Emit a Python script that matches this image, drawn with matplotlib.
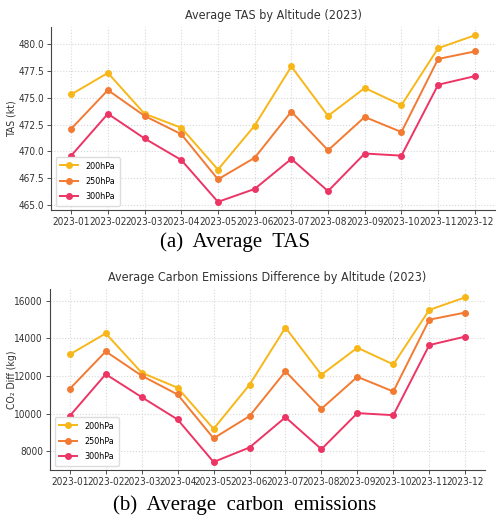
import matplotlib as mpl
import matplotlib.pyplot as plt

# data
months = ['2023-01', '2023-02', '2023-03', '2023-04', '2023-05', '2023-06',
          '2023-07', '2023-08', '2023-09', '2023-10', '2023-11', '2023-12']

tas_200 = [475.3, 477.3, 473.5, 472.2, 468.3, 472.4, 477.9, 473.3, 475.9, 474.3, 479.6, 480.8]
tas_250 = [472.1, 475.7, 473.3, 471.6, 467.4, 469.4, 473.7, 470.1, 473.2, 471.8, 478.6, 479.3]
tas_300 = [469.6, 473.5, 471.2, 469.2, 465.3, 466.5, 469.3, 466.3, 469.8, 469.6, 476.2, 477.0]

co2_200 = [13150, 14270, 12180, 11380, 9190, 11540, 14580, 12070, 13510, 12620, 15520, 16190]
co2_250 = [11320, 13310, 12020, 11020, 8690, 9870, 12250, 10260, 11960, 11180, 15000, 15380]
co2_300 = [9880, 12100, 10880, 9690, 7430, 8200, 9810, 8110, 10030, 9920, 13650, 14100]

levels = ['200hPa', '250hPa', '300hPa']
colors = ['#F7B718', '#F27A32', '#EC3564']

plt.rcParams['font.family'] = ['DejaVu Sans']
plt.rcParams['font.stretch'] = 'condensed'

fig = plt.figure(figsize=[5.0, 5.19], dpi=100)
ax_top = fig.add_axes([0.102, 0.595, 0.888, 0.353])
ax_bot = fig.add_axes([0.100, 0.094, 0.870, 0.349])


def draw(ax, series, title, ylabel, fmt):
    for vals, lab, col in zip(series, levels, colors):
        ax.plot(months, vals, marker='o', markersize=4, linewidth=1.4,
                color=col, label=lab)
    ax.set_title(title, fontsize=9, color='#333333', pad=6)
    ax.set_ylabel(ylabel, fontsize=7.5, color='#333333')
    ax.yaxis.set_label_coords(-0.077, 0.5)
    ax.yaxis.set_major_formatter(mpl.ticker.StrMethodFormatter(fmt))
    ax.tick_params(labelsize=7.2, colors='#333333', length=3, width=0.6, pad=2)
    ax.grid(True, linestyle=':', color='#d8d8d8', linewidth=0.8)
    ax.spines['top'].set_visible(False)
    ax.spines['right'].set_visible(False)
    ax.spines['left'].set_color('#444444')
    ax.spines['bottom'].set_color('#444444')
    ax.legend(loc='lower left', fontsize=6.5, handlelength=2.0,
              framealpha=1, edgecolor='#dddddd', borderpad=0.5,
              labelspacing=0.7)


draw(ax_top, [tas_200, tas_250, tas_300],
     'Average TAS by Altitude (2023)', 'TAS (kt)', '{x:.1f}')
ax_top.set_yticks([465.0, 467.5, 470.0, 472.5, 475.0, 477.5, 480.0])

draw(ax_bot, [co2_200, co2_250, co2_300],
     'Average Carbon Emissions Difference by Altitude (2023)',
     'CO\u2082 Diff (kg)', '{x:.0f}')
ax_bot.set_yticks([8000, 10000, 12000, 14000, 16000])

# captions under each panel
fig.text(0.47, 1 - 242 / 519, '(a)  Average  TAS', ha='center', va='center',
         family='Liberation Serif', stretch='normal', fontsize=15)
fig.text(0.49, 1 - 505 / 519, '(b)  Average  carbon  emissions', ha='center',
         va='center', family='Liberation Serif', stretch='normal', fontsize=15)

fig.savefig('out.png', dpi=100)
